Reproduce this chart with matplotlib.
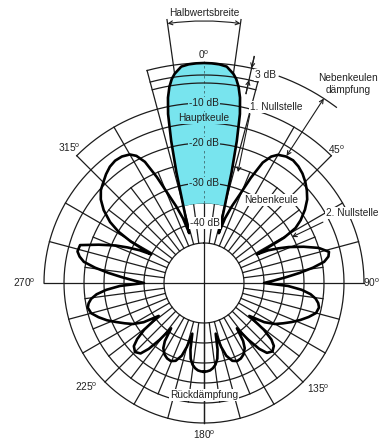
import numpy as np
import matplotlib
matplotlib.use('Agg')
import matplotlib.pyplot as plt

plt.rcParams['font.family'] = ['Liberation Sans', 'DejaVu Sans']
plt.rcParams['mathtext.fontset'] = 'custom'
plt.rcParams['mathtext.rm'] = 'Liberation Sans'

# antenna pattern: angle from boresight (deg) and level (dB)
angles = [0, 2, 4, 6, 8, 9, 10, 11, 12, 13, 14, 15, 15.5, 16, 16.5,
          18, 20, 22, 24, 26, 28, 30, 33, 36, 39, 42, 45, 48, 51, 54, 57, 59, 60.5, 61.5,
          63, 65, 67, 70, 73, 76, 78, 80, 82, 84, 86, 88, 90,
          92, 94, 96, 98, 100, 102, 105, 108, 111, 114, 117, 120, 123, 126,
          128, 130, 132, 135, 138, 140, 142, 144,
          146, 148, 151, 154, 157, 160, 163, 165, 167,
          168.5, 170, 172, 174, 176, 178, 180]

level_right = [0, -0.05, -0.2, -0.6, -2.2, -3.4, -5.2, -7.8, -11.8, -18.5, -26.5, -34.5, -37.5, -39.5, -42,
               -38, -34.5, -31.2, -26.2, -21.5, -19.2, -18, -17.3, -17.1, -17.5, -18.2, -19.2, -20.4, -21.8, -23.8, -26.2, -28.3, -32, -40,
               -37, -34.5, -32, -28.5, -25, -22.8, -23.2, -24.5, -27.5, -31, -34.5, -37.5, -40,
               -34, -30.5, -28.2, -26.8, -26, -25.6, -26, -27.5, -29.2, -31, -32.8, -34.5, -37, -41,
               -36, -33, -31.5, -30.8, -31.5, -33.5, -37, -41,
               -37.5, -35.8, -34.6, -34, -33.8, -34.3, -36, -38.5, -42,
               -38, -35.8, -34.4, -33.6, -33.1, -32.9, -32.8]

level_left = [0, -0.05, -0.2, -0.6, -2.2, -3.4, -5.2, -7.8, -11.8, -18.5, -26.5, -34.5, -37.5, -39.5, -42,
              -38, -34.5, -31, -26, -21.3, -19, -17.9, -17.3, -17.2, -17.6, -18.4, -19.4, -20.3, -21.8, -24, -27, -30, -34, -40,
              -37, -34, -31, -27, -22.6, -22.4, -23.2, -24.5, -27.5, -31, -34.5, -37.5, -40,
              -34, -30.5, -28, -26.5, -25.7, -25.3, -25.8, -27.3, -29, -31, -32.8, -34.5, -37, -41,
              -36, -33.2, -31.4, -30.6, -31.3, -33.5, -37, -41,
              -37.5, -35.8, -34.6, -34, -33.8, -34.3, -36, -38.5, -42,
              -38, -35.8, -34.4, -33.6, -33.1, -32.9, -32.8]

first_null = 16.5
fill_floor = -35
half_power = 8

full_rings = [-45, -40, -35, -30, -25, -20]
lobe_rings = [-30, -20, -15, -10]
box_rings = [-5, -3, 0]

ink = '#1c1c1c'
cyan = '#78E4EE'
fs = 7.3

fig = plt.figure(figsize=(3.82, 4.42), dpi=100)
W, H = 382, 442
cx, cy, R = 204, 283, 268
ax = fig.add_axes([(cx - R) / W, (H - cy - R) / H, 2 * R / W, 2 * R / H], projection='polar')
ax.set_theta_zero_location('N')
ax.set_theta_direction(-1)
ax.set_ylim(-55, 12)
ax.axis('off')


def ring(level, a0, a1, z=1, lw=0.9):
    t = np.radians(np.linspace(a0, a1, 400))
    ax.plot(t, np.full(t.size, level), color=ink, lw=lw, zorder=z, clip_on=False)


def spoke(a, r0, r1, z=1, lw=0.9, **kw):
    ax.plot(np.radians([a, a]), [r0, r1], color=ink, lw=lw, zorder=z, clip_on=False, **kw)


# grid
for lv in full_rings:
    ring(lv, 0, 360, z=3 if lv in lobe_rings else 1)
ring(-15, -90, 90, z=3)
ring(-10, -45, 45, z=3)
for lv in box_rings:
    ring(lv, -15, 15, z=3)
ring(0, 20, 37)

for a in range(15, 360, 15):
    if a in (90, 270):
        continue
    if 90 < a < 270:
        outer = -20
    elif a in (15, 345):
        outer = 0
    elif a <= 45 or a >= 315:
        outer = -10
    else:
        outer = -15
    spoke(a, -45, outer)
for a in np.arange(7.5, 360, 15):
    spoke(a, -45, -25)

spoke(180, -20, -55)
spoke(0, -55, -35)
spoke(90, -15, -55)
spoke(270, -15, -55)
spoke(0, -35, 0.5, z=3, lw=0.6, ls=(0, (3, 3)), alpha=0.6)

# pattern
ang = np.array(angles)
theta = np.radians(np.concatenate([-ang[::-1], ang[1:]]))
level = np.concatenate([np.array(level_left)[::-1], np.array(level_right)[1:]])
main = np.abs(theta) <= np.radians(first_null) + 1e-9
ax.fill_between(theta[main], fill_floor, np.maximum(level[main], fill_floor),
                color=cyan, lw=0, zorder=2)
ax.plot(theta, level, color='black', lw=1.9, zorder=4, clip_on=False,
        solid_joinstyle='round')

# dimension lines
spoke(-half_power, -3, 11.5)
spoke(half_power, -3, 11.5)
arrow = dict(arrowstyle='->', lw=0.8, color=ink, shrinkA=0, shrinkB=0, mutation_scale=7)
arrow2 = dict(arrow, arrowstyle='<->')
ax.annotate('', xy=(np.radians(-half_power), 10.5), xytext=(np.radians(half_power), 10.5),
            arrowprops=dict(arrow2, connectionstyle='arc3,rad=0.07'), annotation_clip=False)
spoke(12.5, -6.5, 3)
ax.annotate('', xy=(np.radians(12.5), 0), xytext=(np.radians(12.5), 3),
            arrowprops=arrow, annotation_clip=False)
ax.annotate('', xy=(np.radians(12.5), -3), xytext=(np.radians(12.5), -6.5),
            arrowprops=arrow, annotation_clip=False)
ax.annotate('', xy=(np.radians(33), 0), xytext=(np.radians(33), -17.1),
            arrowprops=arrow2, annotation_clip=False)
ax.annotate('', xy=(np.radians(17), -26), xytext=(np.radians(15.2), -11.2),
            arrowprops=arrow, annotation_clip=False, zorder=5)
ax.annotate('', xy=(np.radians(62.4), -30.2), xytext=(np.radians(62.9), -21.6),
            arrowprops=arrow, annotation_clip=False, zorder=5)

# labels
def label(a, r, s, bg=None, **kw):
    box = dict(boxstyle='square,pad=0.1', fc=bg, ec='none') if bg else None
    ax.text(np.radians(a), r, s, ha=kw.pop('ha', 'center'), va=kw.pop('va', 'center'),
            fontsize=kw.pop('fontsize', fs), color='#222222', bbox=box, zorder=6, **kw)


label(0, 12.6, 'Halbwertsbreite')
label(0, 2.0, r'0$^\mathrm{o}$')
label(45, -8, r'45$^\mathrm{o}$')
label(315, -7.3, r'315$^\mathrm{o}$')
label(270, -10, r'270$^\mathrm{o}$')
label(90, -13.2, r'90$^\mathrm{o}$')
label(228.6, -15.7, r'225$^\mathrm{o}$')
label(132.7, -16, r'135$^\mathrm{o}$')
label(180, -17, r'180$^\mathrm{o}$')

for lv in (-10, -20, -30):
    label(0, lv, f'{lv} dB', bg=cyan)
label(0.8, -40, '-40 dB', bg='white')
label(0, -13.7, 'Hauptkeule', bg=cyan)
label(38.9, -28.3, 'Nebenkeule', bg='white')
label(22.2, -7.5, '1. Nullstelle', bg='white')
label(64.7, -14, '2. Nullstelle', bg='white')
label(35.9, 6.4, 'Nebenkeulen\ndämpfung', linespacing=1.25)
label(16.6, -0.75, '3 dB', bg='white')
label(180, -27, 'Rückdämpfung', bg='white')

fig.savefig('out.png', dpi=100)
